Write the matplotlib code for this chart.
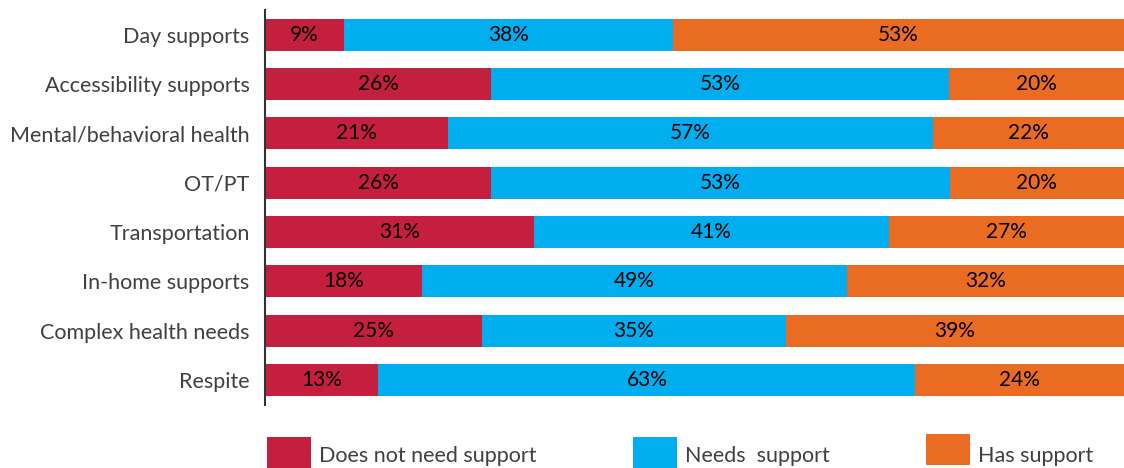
import matplotlib
matplotlib.use("Agg")
import matplotlib.pyplot as plt
from matplotlib.patches import Rectangle
import numpy as np

categories = ["Day supports", "Accessibility supports", "Mental/behavioral health",
              "OT/PT", "Transportation", "In-home supports",
              "Complex health needs", "Respite"]
does_not_need = [9.2, 26.3, 21.3, 26.3, 31.3, 18.3, 25.3, 13.2]
needs = [38.3, 53.3, 56.5, 53.4, 41.3, 49.4, 35.3, 62.5]
has_support = [52.5, 20.4, 22.2, 20.3, 27.4, 32.3, 39.4, 24.3]
series_names = ["Does not need support", "Needs  support", "Has support"]
colors = ["#C51F3F", "#00AEEF", "#EA6C23"]

plt.rcParams['font.family'] = ['Lato', 'DejaVu Sans']

fig = plt.figure(figsize=(11.24, 4.68), dpi=100)
ax = fig.add_axes([265/1124, 1-404.6/468, 1-265/1124, (404.6-10)/468])

y = np.arange(len(categories))
left = np.zeros(len(categories))
for vals, col in zip([does_not_need, needs, has_support], colors):
    vals = np.array(vals, dtype=float)
    bars = ax.barh(y, vals, left=left, height=0.65, color=col, edgecolor='none')
    ax.bar_label(bars, labels=[f"{int(v + 0.5)}%" for v in vals], label_type='center',
                 fontsize=15, color='black')
    left += vals

ax.set_xlim(0, 100)
ax.set_ylim(len(categories) - 0.5, -0.5)
ax.set_yticks(y)
ax.set_yticklabels(categories, fontsize=15.5, color='#404040', fontweight='normal')
ax.tick_params(axis='y', length=0, pad=11)
ax.set_xticks([])
for s in ['top', 'right', 'bottom']:
    ax.spines[s].set_visible(False)
ax.spines['left'].set_color('#333333')
ax.spines['left'].set_linewidth(1.5)

# legend
leg_x = [267, 633, 926]
leg_y = [437, 437, 434]
for name, col, lx, ly in zip(series_names, colors, leg_x, leg_y):
    fig.add_artist(Rectangle((lx/1124, 1-(ly+31)/468), 44/1124, 31/468,
                             transform=fig.transFigure, color=col, lw=0))
    fig.text((lx+52)/1124, 1-456/468, name, fontsize=15.5, color='#404040',
             va='center', ha='left', fontweight='normal')

fig.savefig("out.png", dpi=100)
